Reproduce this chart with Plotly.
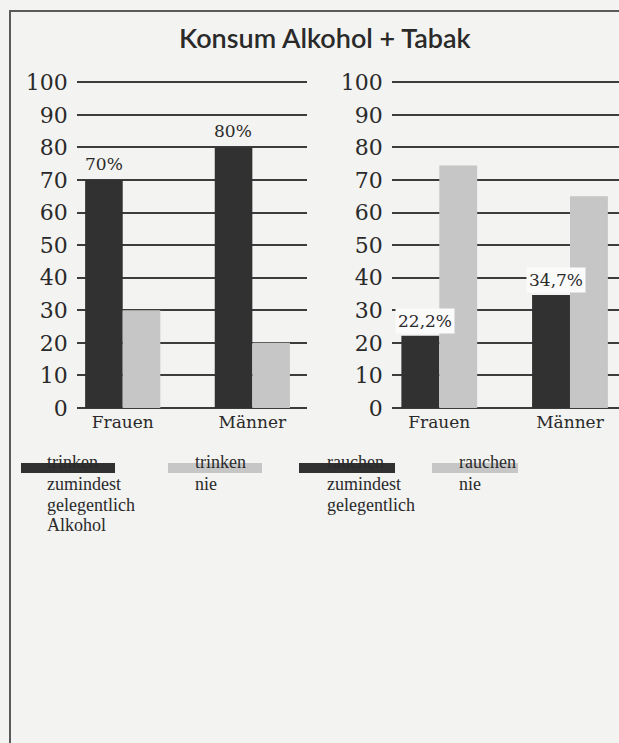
import plotly.graph_objects as go

# ---- data -------------------------------------------------------------
categories = ["Frauen", "Männer"]
trinken_zumindest = [70, 80]      # trinken zumindest gelegentlich Alkohol
trinken_nie = [30, 20]            # trinken nie
rauchen_zumindest = [22.2, 34.7]  # rauchen zumindest gelegentlich
rauchen_nie = [74.5, 65]          # rauchen nie
y_ticks = list(range(0, 101, 10))

title_text = "Konsum Alkohol + Tabak"
legend_entries = [
    ("trinken", "zumindest", "gelegentlich", "Alkohol"),
    ("trinken", "nie"),
    ("rauchen", "zumindest", "gelegentlich"),
    ("rauchen", "nie"),
]

# ---- style ------------------------------------------------------------
W, H = 619, 743
DARK = "#313131"
LIGHT = "#c6c6c6"
PAPER = "#f3f3f1"
GRID = "#3c3c3c"
TXT = "#2a2a2a"
SERIF = "DejaVu Serif"
LEG_FONT = "Liberation Serif"


def fx(p):
    """pixel x -> paper fraction"""
    return p / W


def fy(p):
    """pixel y (from top) -> paper fraction"""
    return 1 - p / H


def pct(v):
    return f"{v:g}%".replace(".", ",")


fig = go.Figure()
fig.add_bar(x=categories, y=trinken_zumindest, marker_color=DARK,
            xaxis="x", yaxis="y", marker_line_width=0)
fig.add_bar(x=categories, y=trinken_nie, marker_color=LIGHT,
            xaxis="x", yaxis="y", marker_line_width=0)
fig.add_bar(x=categories, y=rauchen_zumindest, marker_color=DARK,
            xaxis="x2", yaxis="y2", marker_line_width=0)
fig.add_bar(x=categories, y=rauchen_nie, marker_color=LIGHT,
            xaxis="x2", yaxis="y2", marker_line_width=0)

y_dom = [fy(409.6), fy(79.1)]
yax = dict(domain=y_dom, range=[-0.5, 101], tickvals=y_ticks, automargin=False,
           showgrid=True, gridcolor=GRID, gridwidth=2, zeroline=False,
           showline=False, ticks="", ticklabelstandoff=8,
           tickfont=dict(family=SERIF, size=22, color=TXT))
xax = dict(type="category", showgrid=False, zeroline=False, showline=False,
           automargin=False,
           ticks="", tickfont=dict(family=SERIF, size=17, color=TXT))

fig.update_layout(
    width=W, height=H, autosize=False,
    margin=dict(l=0, r=0, t=0, b=0, pad=0, autoexpand=False),
    paper_bgcolor=PAPER, plot_bgcolor="rgba(0,0,0,0)",
    barmode="group", bargap=0.42, bargroupgap=0,
    showlegend=False,
    xaxis=dict(xax, domain=[fx(76.7), fx(307.3)], range=[-0.355, 1.424], anchor="y"),
    yaxis=dict(yax, anchor="x"),
    xaxis2=dict(xax, domain=[fx(391.7), 1.0], range=[-0.364, 1.375], anchor="y2"),
    yaxis2=dict(yax, anchor="x2"),
)

annotations = []
# title
annotations.append(dict(text=title_text, xref="paper", yref="paper",
                        x=fx(325), y=fy(38), xanchor="center", yanchor="middle",
                        showarrow=False,
                        font=dict(family="Lato", size=27, color=TXT, weight=600)))

# value labels above the dark bars
for cat, v in zip(categories, trinken_zumindest):
    annotations.append(dict(text=pct(v), x=cat, y=v, xref="x", yref="y",
                            xshift=-19, yshift=16, showarrow=False,
                            yanchor="middle",
                            font=dict(family=SERIF, size=17, color=TXT)))
for cat, v in zip(categories, rauchen_zumindest):
    annotations.append(dict(text=pct(v), x=cat, y=v, xref="x2", yref="y2",
                            xshift=-14, yshift=15, showarrow=False,
                            yanchor="middle", bgcolor="#fbfbfb", borderpad=2,
                            font=dict(family=SERIF, size=17, color=TXT)))

# legend: swatch bars with stacked text lines
shapes = []
swatches = [(21, 115, DARK), (168, 262, LIGHT), (299, 395, DARK), (432, 518, LIGHT)]
text_x = [45, 193, 325, 457]
line_y = [462, 484, 505, 525]
for (x0, x1, col), tx, lines in zip(swatches, text_x, legend_entries):
    shapes.append(dict(type="rect", xref="paper", yref="paper",
                       x0=fx(x0), x1=fx(x1), y0=fy(473), y1=fy(463),
                       fillcolor=col, line_width=0, layer="below"))
    for ly, t in zip(line_y, lines):
        annotations.append(dict(text=t, xref="paper", yref="paper",
                                x=fx(tx), y=fy(ly), xanchor="left", yanchor="middle",
                                showarrow=False,
                                font=dict(family=LEG_FONT, size=18, color=TXT)))

# frame: top and left border
shapes.append(dict(type="path", xref="paper", yref="paper",
                   path=f"M {fx(619)},{fy(11)} L {fx(10)},{fy(11)} L {fx(10)},{fy(743)}",
                   line=dict(color="#5a5a5a", width=2)))

fig.update_layout(annotations=annotations, shapes=shapes)
fig.write_html("out.html")
